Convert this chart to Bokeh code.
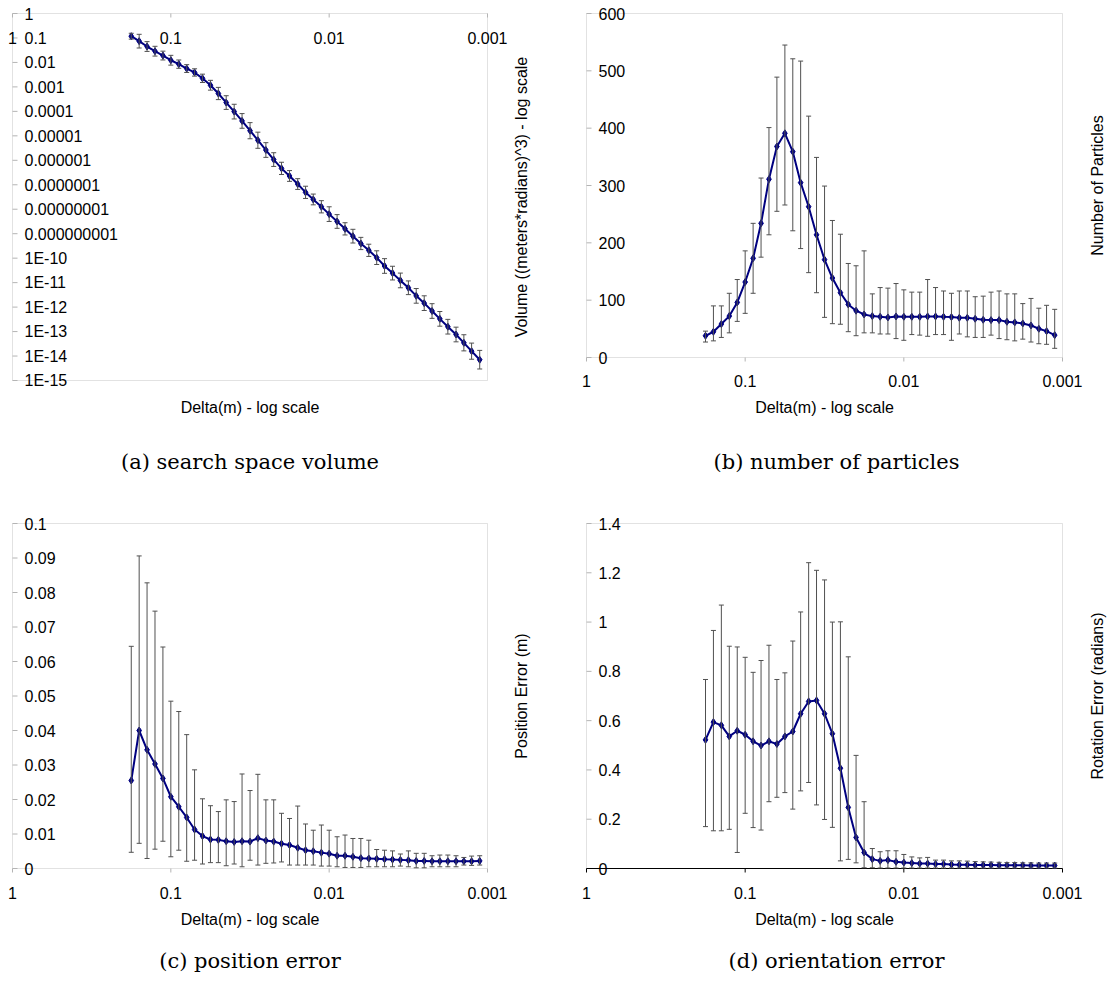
import math
from bokeh.plotting import figure
from bokeh.layouts import column, row
from bokeh.models import (ColumnDataSource, Range1d, Whisker, TeeHead, LabelSet, Label,
                          BoxAnnotation)
from bokeh.embed import file_html
from bokeh.resources import INLINE
from bokeh.core.properties import value

# ---------------- data ----------------
delta = [0.1778, 0.1585, 0.1413, 0.1259, 0.1122, 0.1000, 0.0891, 0.0794, 0.0708, 0.0631,
         0.0562, 0.0501, 0.0447, 0.0398, 0.0355, 0.0316, 0.0282, 0.0251, 0.0224, 0.0200,
         0.0178, 0.0158, 0.0141, 0.0126, 0.0112, 0.0100, 0.00891, 0.00794, 0.00708, 0.00631,
         0.00562, 0.00501, 0.00447, 0.00398, 0.00355, 0.00316, 0.00282, 0.00251, 0.00224, 0.00200,
         0.00178, 0.00158, 0.00141, 0.00126, 0.00112]

volume = [1.18e-1, 7.41e-2, 4.47e-2, 2.88e-2, 1.91e-2, 1.23e-2, 8.51e-3, 5.62e-3, 3.89e-3, 2.24e-3,
          1.17e-3, 5.37e-4, 2.29e-4, 9.77e-5, 4.07e-5, 1.62e-5, 6.61e-6, 2.63e-6, 1.07e-6, 4.68e-7,
          2.29e-7, 1.07e-7, 4.90e-8, 2.51e-8, 1.26e-8, 6.31e-9, 3.16e-9, 1.58e-9, 7.94e-10, 3.98e-10,
          2.09e-10, 1.05e-10, 4.79e-11, 2.45e-11, 1.23e-11, 6.17e-12, 2.88e-12, 1.45e-12, 6.92e-13, 3.31e-13,
          1.58e-13, 7.59e-14, 3.47e-14, 1.58e-14, 7.08e-15]
# error half-width, in decades
volume_err_dec = [0.12, 0.28, 0.20, 0.20, 0.18, 0.20, 0.17, 0.16, 0.15, 0.17,
                  0.20, 0.25, 0.28, 0.30, 0.30, 0.33, 0.33, 0.30, 0.28, 0.25,
                  0.22, 0.22, 0.25, 0.22, 0.25, 0.30, 0.28, 0.25, 0.28, 0.25,
                  0.25, 0.28, 0.30, 0.28, 0.30, 0.28, 0.30, 0.30, 0.30, 0.30,
                  0.30, 0.30, 0.33, 0.33, 0.38]

particles = [37.9, 44.9, 58.3, 72.2, 96.1, 131.6, 173, 234, 311, 368,
             391, 359, 305, 263, 214, 170.7, 138.6, 113, 92.6, 81.6,
             75.1, 72.2, 71.1, 69.9, 71.6, 71.1, 71.0, 71.0, 71.6, 71.6,
             71.0, 70.5, 69.3, 69.3, 67.6, 65.8, 65.2, 65.2, 62.3, 61.2,
             59.4, 55.9, 50.1, 46.0, 39.0]
particles_upper = [46, 90, 90, 112, 136, 186, 234, 313, 401, 489,
                   545, 521, 517, 421, 349, 299, 239, 215, 164, 160,
                   186, 111, 122, 121, 129, 118, 114, 114, 136, 122,
                   116, 112, 116, 116, 106, 107, 114, 116, 111, 111,
                   94, 103, 86, 91, 84]
particles_lower = [27, 29, 35, 43, 63, 77, 112, 175, 214, 255,
                   266, 221, 190, 148, 113, 70, 59, 58, 45, 38,
                   43, 43, 41, 41, 33, 30, 40, 39, 37, 40,
                   40, 30, 41, 36, 35, 35, 39, 33, 31, 29,
                   32, 27, 24, 23, 16]

pos_err = [0.0255, 0.0400, 0.0344, 0.0303, 0.0261, 0.0208, 0.0179, 0.0148, 0.0113, 0.0094,
           0.0084, 0.0083, 0.0079, 0.0077, 0.0079, 0.0078, 0.0088, 0.0081, 0.0078, 0.0072,
           0.0068, 0.0060, 0.0053, 0.0050, 0.0046, 0.0043, 0.0037, 0.0037, 0.0034, 0.0030,
           0.0029, 0.0028, 0.0027, 0.0026, 0.0025, 0.0024, 0.0022, 0.0022, 0.0021, 0.0021,
           0.0021, 0.0021, 0.0021, 0.0021, 0.0022]
pos_upper = [0.0644, 0.0906, 0.0828, 0.0746, 0.0642, 0.0485, 0.0455, 0.0388, 0.0286, 0.0202,
             0.0182, 0.0165, 0.0199, 0.0194, 0.0274, 0.0226, 0.0273, 0.0199, 0.0199, 0.0160,
             0.0145, 0.0181, 0.0129, 0.0111, 0.0126, 0.0111, 0.0092, 0.0097, 0.0087, 0.0087,
             0.0082, 0.0055, 0.0053, 0.0051, 0.0042, 0.0051, 0.0044, 0.0044, 0.0037, 0.0039,
             0.0039, 0.0037, 0.0032, 0.0036, 0.0037]
pos_lower = [0.0047, 0.0073, 0.0029, 0.0056, 0.0079, 0.0034, 0.0053, 0.0021, 0.0024, 0.0013,
             0.0017, 0.0017, 0.0008, 0.0013, 0.0005, 0.0024, 0.0010, 0.0015, 0.0016, 0.0019,
             0.0010, 0.0010, 0.0010, 0.0010, 0.0007, 0.0007, 0.0005, 0.0003, 0.0003, 0.0003,
             0.0005, 0.0005, 0.0005, 0.0005, 0.0007, 0.0005, 0.0002, 0.0002, 0.0005, 0.0005,
             0.0005, 0.0005, 0.0010, 0.0009, 0.0010]

rot_err = [0.522, 0.594, 0.581, 0.536, 0.559, 0.543, 0.516, 0.499, 0.516, 0.505,
           0.536, 0.556, 0.628, 0.678, 0.682, 0.628, 0.547, 0.407, 0.248, 0.126,
           0.065, 0.038, 0.031, 0.034, 0.027, 0.024, 0.022, 0.020, 0.020, 0.018,
           0.018, 0.016, 0.015, 0.015, 0.014, 0.014, 0.014, 0.013, 0.013, 0.013,
           0.013, 0.012, 0.012, 0.012, 0.012]
rot_upper = [0.767, 0.966, 1.069, 0.902, 0.899, 0.857, 0.796, 0.844, 0.906, 0.767,
             0.794, 0.923, 1.041, 1.241, 1.210, 1.171, 1.000, 1.001, 0.859, 0.459,
             0.271, 0.081, 0.068, 0.072, 0.072, 0.057, 0.047, 0.043, 0.045, 0.034,
             0.034, 0.031, 0.031, 0.030, 0.028, 0.027, 0.026, 0.025, 0.024, 0.024,
             0.023, 0.023, 0.022, 0.022, 0.022]
rot_lower = [0.170, 0.153, 0.153, 0.159, 0.065, 0.224, 0.166, 0.156, 0.271, 0.289,
             0.308, 0.241, 0.315, 0.349, 0.258, 0.199, 0.167, 0.031, 0.037, 0.023,
             0.003, 0.003, 0.002, 0.002, 0.002, 0.002, 0.002, 0.002, 0.002, 0.002,
             0.002, 0.002, 0.002, 0.002, 0.002, 0.002, 0.002, 0.002, 0.002, 0.002,
             0.002, 0.002, 0.002, 0.002, 0.002]

x_ticks = [1, 0.1, 0.01, 0.001]
x_tick_labels = ["1", "0.1", "0.01", "0.001"]

vol_ticks = [1, 1e-1, 1e-2, 1e-3, 1e-4, 1e-5, 1e-6, 1e-7, 1e-8, 1e-9,
             1e-10, 1e-11, 1e-12, 1e-13, 1e-14, 1e-15]
vol_tick_labels = ["1", "0.1", "0.01", "0.001", "0.0001", "0.00001", "0.000001",
                   "0.0000001", "0.00000001", "0.000000001", "1E-10", "1E-11",
                   "1E-12", "1E-13", "1E-14", "1E-15"]
part_ticks = [0, 100, 200, 300, 400, 500, 600]
part_tick_labels = ["0", "100", "200", "300", "400", "500", "600"]
pos_ticks = [0, 0.01, 0.02, 0.03, 0.04, 0.05, 0.06, 0.07, 0.08, 0.09, 0.1]
pos_tick_labels = ["0", "0.01", "0.02", "0.03", "0.04", "0.05", "0.06", "0.07", "0.08", "0.09", "0.1"]
rot_ticks = [0, 0.2, 0.4, 0.6, 0.8, 1.0, 1.2, 1.4]
rot_tick_labels = ["0", "0.2", "0.4", "0.6", "0.8", "1", "1.2", "1.4"]

x_title = "Delta(m) - log scale"
y_titles = ["Volume ((meters*radians)^3) - log scale", "Number of Particles",
            "Position Error (m)", "Rotation Error (radians)"]
captions = ["(a) search space volume", "(b) number of particles",
            "(c) position error", "(d) orientation error"]

# ---------------- style ----------------
FONT = "Liberation Sans"
FS = "16px"
SERIF = "DejaVu Serif"
CAP_FS = "21px"
NAVY = "#000080"
BAR = "#505050"
BORDER = "#a0a0a0"
TICK = "#b4b4b4"


def fit_range(v_a, p_a, v_b, p_b, size, log):
    """Range whose value v_a sits at pixel p_a and v_b at pixel p_b, over 0..size px."""
    ta, tb = (math.log10(v_a), math.log10(v_b)) if log else (v_a, v_b)
    s = (tb - ta) / (p_b - p_a)
    t0 = ta - p_a * s
    t1 = ta + (size - p_a) * s
    return Range1d(10 ** t0, 10 ** t1) if log else Range1d(t0, t1)


def make_panel(w, h, box, y_log, y_ticks, y_labels, ys, up, lo, y_title, caption,
               xlab_dy, xtitle_dy, cap_dy, cap_dx, ytitle_dx, x_labels_top=False,
               black_base=False):
    bl, br, bt, bb = box  # box edges in this figure's pixels (from left / from top)
    y_lo, y_hi = (min(y_ticks), max(y_ticks))
    xr = fit_range(x_ticks[0], bl, x_ticks[-1], br, w, True)
    yr = fit_range(y_lo, h - bb, y_hi, h - bt, h, y_log)
    p = figure(width=w, height=h, title=None, toolbar_location=None, output_backend="svg",
               x_axis_type="log", y_axis_type="log" if y_log else "linear",
               x_range=xr, y_range=yr, x_axis_location=None, y_axis_location=None,
               min_border_left=0, min_border_right=0, min_border_top=0, min_border_bottom=0)
    p.grid.visible = False
    p.outline_line_color = None
    p.background_fill_color = "white"
    p.border_fill_color = "white"

    # plot-area box
    p.add_layout(BoxAnnotation(left=x_ticks[0], right=x_ticks[-1], bottom=y_lo, top=y_hi,
                               fill_alpha=0, line_color=BORDER, line_width=1, level="underlay"))

    # small inner ticks on the value axis
    p.ray(x=[x_ticks[0]] * len(y_ticks), y=y_ticks, length=5, length_units="screen",
          angle=0, line_color=TICK, line_width=1)

    if black_base:
        p.line(x=[x_ticks[0], x_ticks[-1]], y=[y_lo, y_lo], line_color="black", line_width=1.2)
    if x_labels_top:
        p.ray(x=x_ticks, y=[y_hi] * len(x_ticks), length=4, length_units="screen",
              angle=-math.pi / 2, line_color=TICK, line_width=1)
    else:
        p.ray(x=x_ticks, y=[y_lo] * len(x_ticks), length=4, length_units="screen",
              angle=-math.pi / 2, line_color="black" if black_base else TICK, line_width=1)

    # value-axis labels, inside the box, left-aligned
    ysrc = ColumnDataSource(dict(x=[x_ticks[0]] * len(y_ticks), y=y_ticks, t=y_labels))
    p.add_layout(LabelSet(x="x", y="y", text="t", source=ysrc, x_offset=12,
                          text_align="left", text_baseline="middle",
                          text_font=value(FONT), text_font_size=FS, text_color="black"))

    # delta-axis labels
    x_anchor = y_hi if x_labels_top else y_lo
    xsrc = ColumnDataSource(dict(x=x_ticks, y=[x_anchor] * len(x_ticks), t=x_tick_labels))
    p.add_layout(LabelSet(x="x", y="y", text="t", source=xsrc, y_offset=xlab_dy,
                          text_align="center", text_baseline="middle",
                          text_font=value(FONT), text_font_size=FS, text_color="black"))

    x_mid = math.sqrt(x_ticks[0] * x_ticks[-1])
    y_mid = math.sqrt(y_lo * y_hi) if y_log else (y_lo + y_hi) / 2
    p.add_layout(Label(x=x_mid, y=y_lo, y_offset=xtitle_dy, text=x_title,
                       text_align="center", text_baseline="middle",
                       text_font=FONT, text_font_size=FS, text_color="black"))
    p.add_layout(Label(x=x_ticks[-1], y=y_mid, x_offset=ytitle_dx, text=y_title,
                       angle=math.pi / 2, text_align="center", text_baseline="middle",
                       text_font=FONT, text_font_size=FS, text_color="black"))
    p.add_layout(Label(x=x_mid, y=y_lo, x_offset=cap_dx, y_offset=cap_dy, text=caption,
                       text_align="center", text_baseline="middle",
                       text_font=SERIF, text_font_size=CAP_FS, text_color="black"))

    # data: error bars, line, markers
    src = ColumnDataSource(dict(x=delta, y=ys, upper=up, lower=lo))
    p.add_layout(Whisker(base="x", upper="upper", lower="lower", source=src,
                         dimension="height", line_color=BAR, line_width=1, level="glyph",
                         upper_head=TeeHead(size=5, line_color=BAR, line_width=1),
                         lower_head=TeeHead(size=5, line_color=BAR, line_width=1)))
    p.line("x", "y", source=src, line_color=NAVY, line_width=2)
    p.scatter("x", "y", source=src, marker="diamond", size=7,
              fill_color=NAVY, line_color=NAVY)
    return p


vol_up = [v * 10 ** e for v, e in zip(volume, volume_err_dec)]
vol_lo = [v / 10 ** e for v, e in zip(volume, volume_err_dec)]

pa = make_panel(550, 490, (12, 487, 13, 380), True, vol_ticks, vol_tick_labels,
                volume, vol_up, vol_lo, y_titles[0], captions[0],
                xlab_dy=-24, xtitle_dy=-27, cap_dy=-81, cap_dx=0, ytitle_dx=34,
                x_labels_top=True)
pb = make_panel(557, 490, (36, 512, 13, 357), False, part_ticks, part_tick_labels,
                particles, particles_upper, particles_lower, y_titles[1], captions[1],
                xlab_dy=-23, xtitle_dy=-50, cap_dy=-104, cap_dx=12, ytitle_dx=35)
pc = make_panel(550, 490, (12, 487, 33, 378), False, pos_ticks, pos_tick_labels,
                pos_err, pos_upper, pos_lower, y_titles[2], captions[2],
                xlab_dy=-24, xtitle_dy=-51, cap_dy=-92, cap_dx=0, ytitle_dx=34)
pd = make_panel(557, 490, (36, 512, 33, 378), False, rot_ticks, rot_tick_labels,
                rot_err, rot_upper, rot_lower, y_titles[3], captions[3],
                xlab_dy=-24, xtitle_dy=-51, cap_dy=-92, cap_dx=12, ytitle_dx=35,
                black_base=True)

layout = column(row(pa, pb), row(pc, pd))
open("out.html", "w").write(file_html(layout, INLINE))
